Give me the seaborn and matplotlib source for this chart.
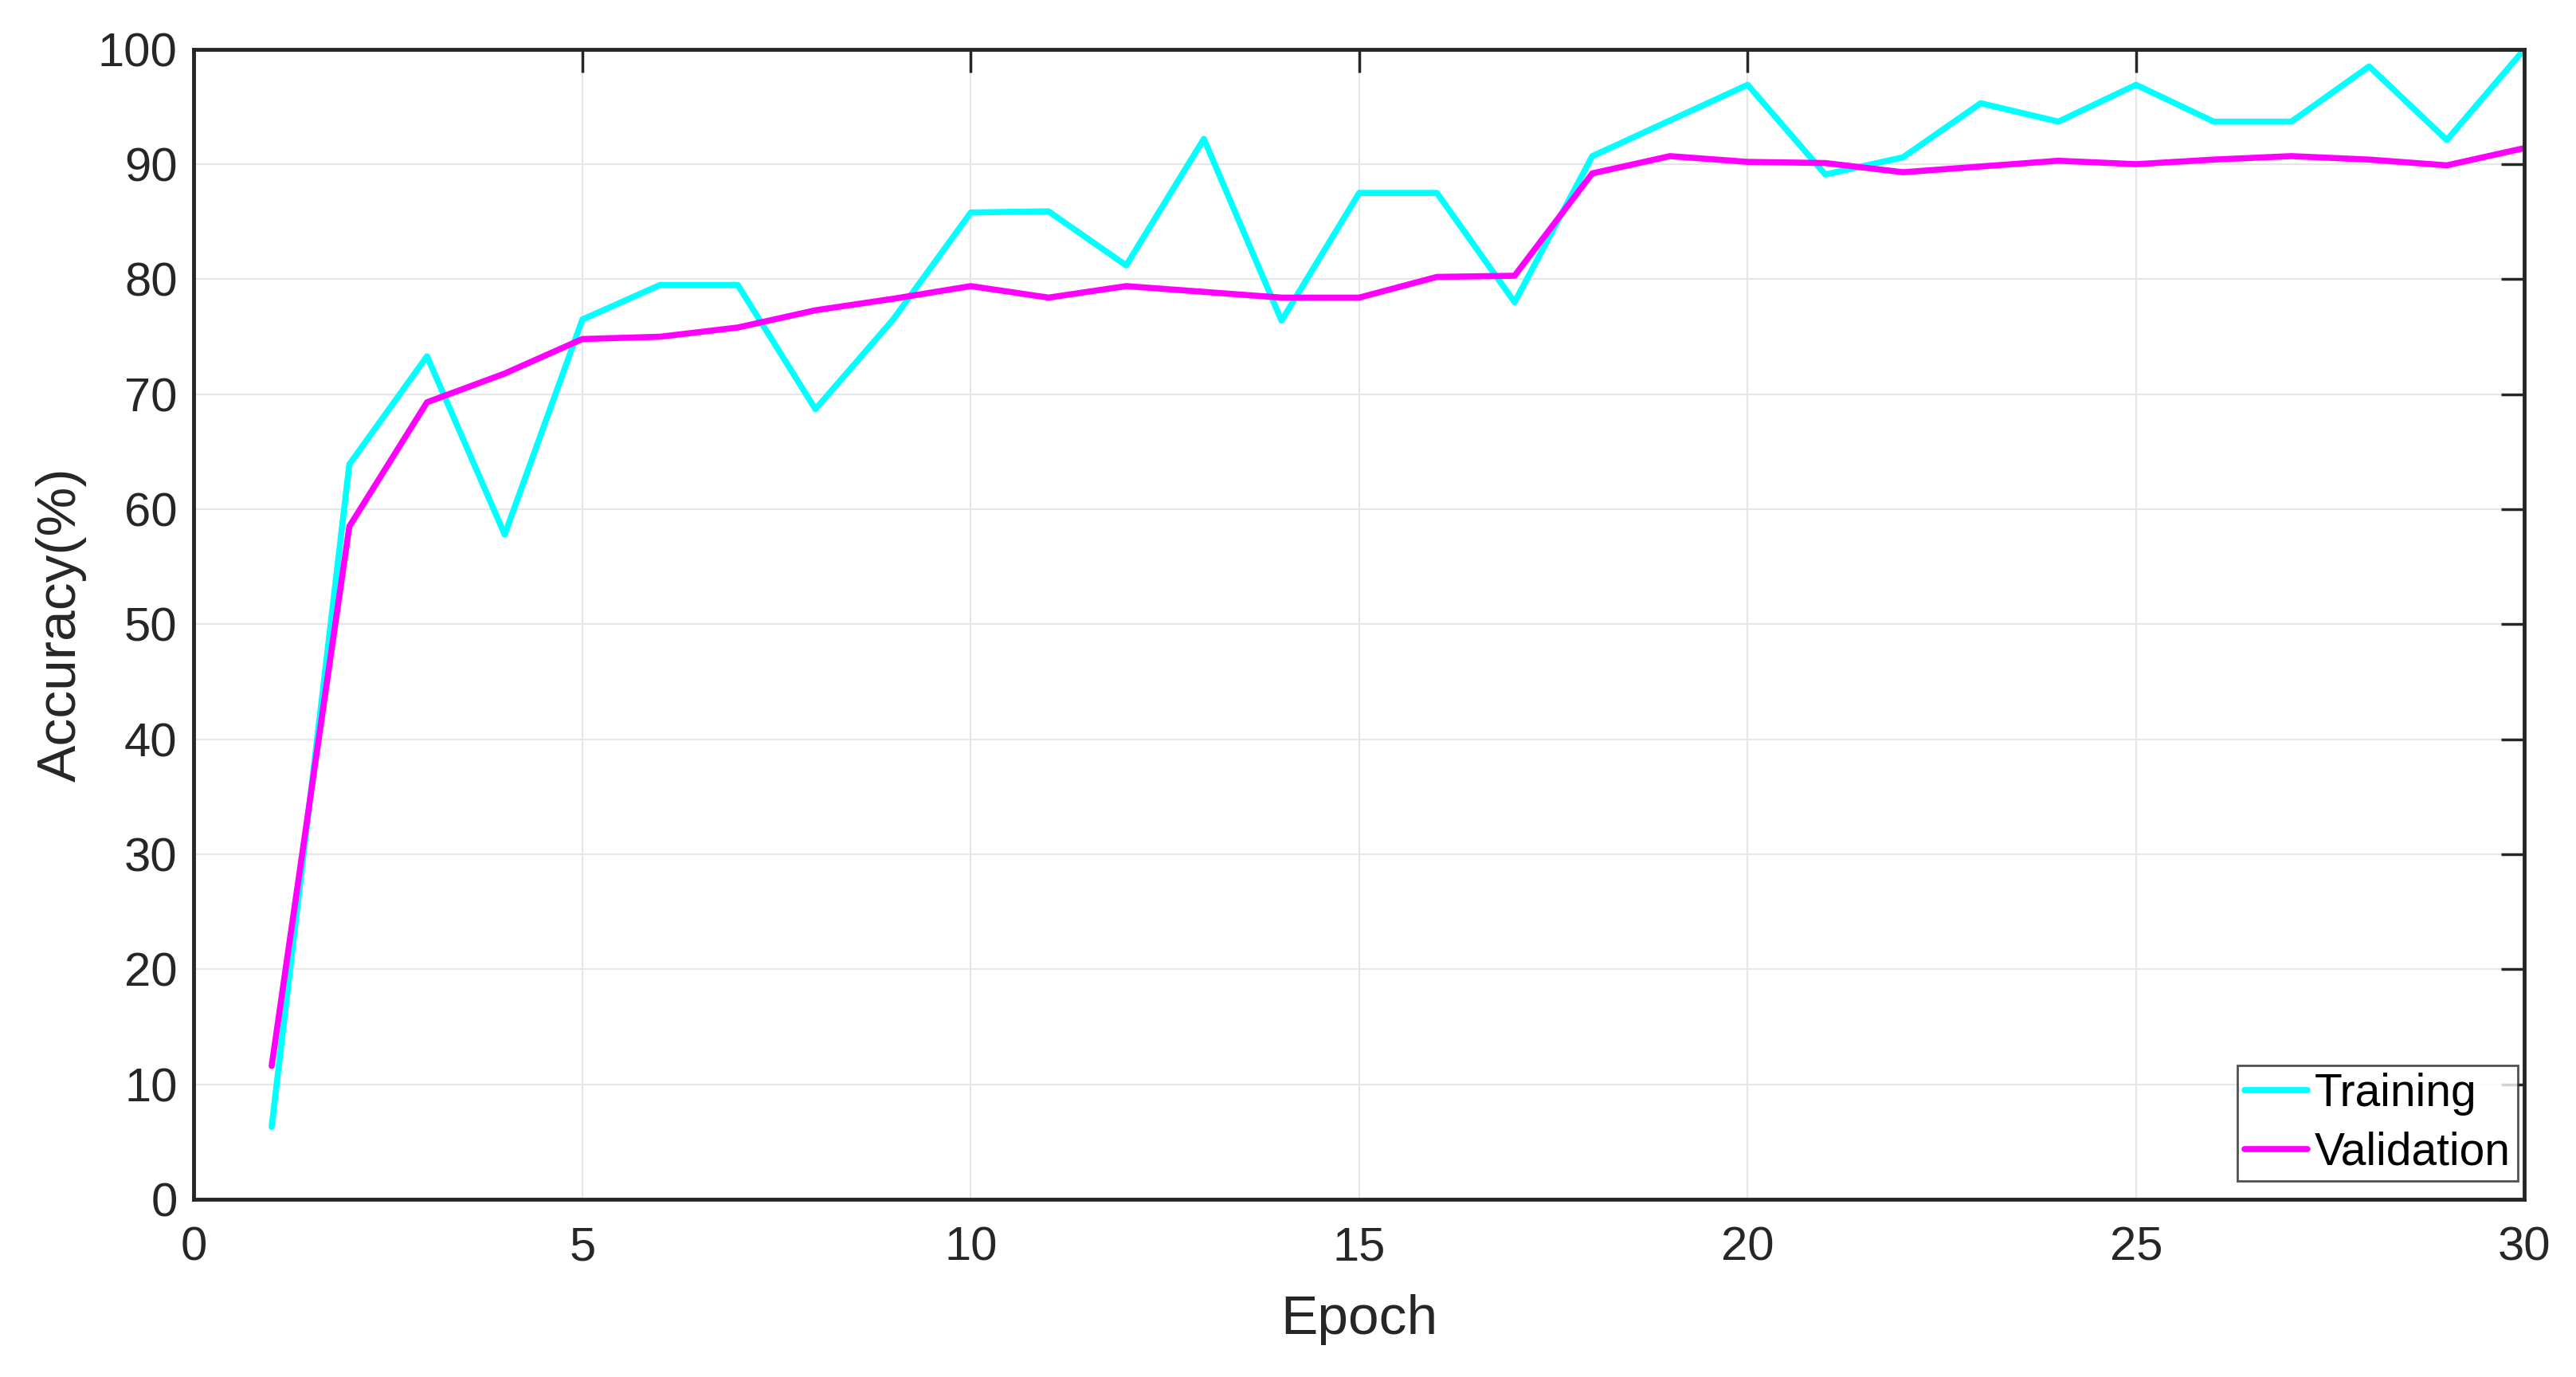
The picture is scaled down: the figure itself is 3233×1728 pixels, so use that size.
import numpy as np
import pandas as pd
import matplotlib
matplotlib.use("Agg")
import matplotlib.pyplot as plt
import seaborn as sns

# valeurs
epochs = list(range(1, 31))
training = [6.3, 63.9, 73.3, 57.8, 76.5, 79.5, 79.5, 68.7, 76.5, 85.8,
            85.9, 81.2, 92.2, 76.4, 87.5, 87.5, 78.0, 90.7, 93.8, 96.9,
            89.1, 90.6, 95.3, 93.7, 96.9, 93.7, 93.7, 98.5, 92.1, 100.0]
validation = [11.6, 58.5, 69.3, 71.8, 74.8, 75.0, 75.8, 77.3, 78.3, 79.4,
              78.4, 79.4, 78.9, 78.4, 78.4, 80.2, 80.3, 89.2, 90.7, 90.2,
              90.1, 89.3, 89.8, 90.3, 90.0, 90.4, 90.7, 90.4, 89.9, 91.4]
series_names = ["Training", "Validation"]
colors = ["#00FFFF", "#FF00FF"]
x_ticks = [0, 5, 10, 15, 20, 25, 30]
y_ticks = list(range(0, 101, 10))

df = pd.DataFrame({
    "Epoch": epochs * 2,
    "Accuracy": training + validation,
    "Serie": [series_names[0]] * len(epochs) + [series_names[1]] * len(epochs),
})

sns.set_style("whitegrid")
plt.rcParams["font.family"] = ["Liberation Sans", "DejaVu Sans"]

fig = plt.figure(figsize=(32.33, 17.28), dpi=100)
ax = fig.add_axes([0.0753, 0.129, 0.9047, 0.8353])

sns.lineplot(data=df, x="Epoch", y="Accuracy", hue="Serie", palette=colors,
             linewidth=5.5, ax=ax, legend=True)

ax.set_xlim(0, 30)
ax.set_ylim(0, 100)
ax.set_xticks(x_ticks)
ax.set_yticks(y_ticks)
ax.grid(True, color="#e6e6e6", linewidth=1.5)
for side in ["left", "right", "top", "bottom"]:
    ax.spines[side].set_visible(True)
    ax.spines[side].set_color("#262626")
    ax.spines[side].set_linewidth(3.5)
ax.tick_params(axis="both", direction="in", length=21, width=2.5, color="#262626",
               labelsize=43, labelcolor="#262626", top=True, right=True)
ax.tick_params(axis="x", pad=24)
ax.tick_params(axis="y", pad=15)
ax.set_xlabel("Epoch", fontsize=50, color="#262626", labelpad=22)
ax.set_ylabel("Accuracy(%)", fontsize=50, color="#262626", labelpad=10)

leg = ax.legend(loc="lower right", bbox_to_anchor=(0.997, 0.016), fontsize=41,
                frameon=True, fancybox=False, handlelength=1.4, handletextpad=0.15,
                borderpad=0.15, labelspacing=0.35, borderaxespad=0)
leg.get_frame().set_edgecolor("#262626")
leg.get_frame().set_linewidth(2)
for line in leg.get_lines():
    line.set_linewidth(5.5)
for text in leg.get_texts():
    text.set_color("black")

plt.savefig("out.png", dpi=100)
plt.close()
